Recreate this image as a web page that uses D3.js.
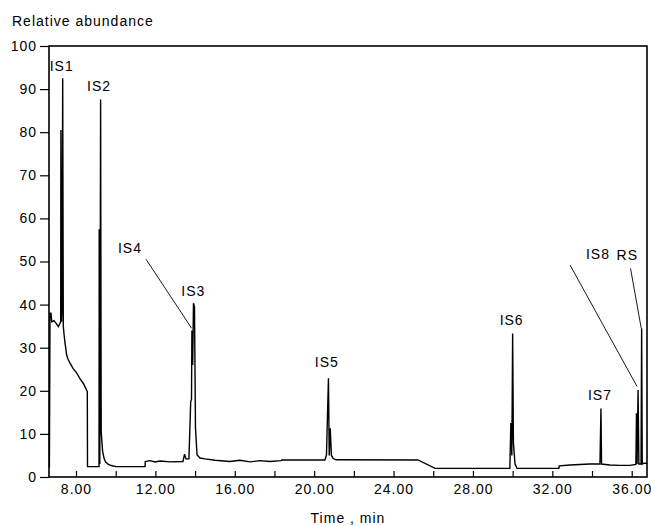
<!DOCTYPE html>
<html>
<head>
<meta charset="utf-8">
<script src="https://cdn.jsdelivr.net/npm/d3@7"></script>
<style>
body { margin: 0; background: #fff; }
text { font-family: "Liberation Sans", Arial, sans-serif; font-size: 14px; letter-spacing: 1px; fill: #000; }
</style>
</head>
<body>
<svg id="chart" width="651" height="526"></svg>
<script>
// chromatogram trace (time in min, relative abundance)
var times = [6.66, 6.69, 6.74, 6.78, 6.89, 6.99, 7.11, 7.23, 7.24, 7.27, 7.30, 7.33, 7.36, 7.40, 7.45, 7.53, 7.60, 7.70, 7.85, 8.04, 8.20, 8.37, 8.50, 8.57, 8.58,
  9.16, 9.17, 9.20, 9.24, 9.27, 9.34, 9.41, 9.49, 9.61, 9.81, 10.02, 11.48, 11.49, 11.73, 11.98, 12.23, 12.74, 13.39, 13.47, 13.54, 13.69,
  13.78, 13.82, 13.84, 13.88, 13.92, 13.97, 14.02, 14.10, 14.25, 14.50, 15.00, 15.76, 16.26, 16.77, 17.27, 17.77, 18.33, 18.36,
  20.54, 20.62, 20.72, 20.76, 20.81, 20.87, 20.96, 21.10, 25.23, 26.09, 29.86, 29.91, 29.96, 30.00, 30.04, 30.12, 30.22,
  32.33, 32.35, 32.89, 33.39, 33.89, 34.40, 34.45, 34.48, 34.90, 35.41, 35.91, 36.21, 36.24, 36.27, 36.32, 36.36, 36.47, 36.50, 36.53, 36.62, 36.77];
var abundance = [2.2, 38, 38, 36, 36.3, 35.7, 34.9, 36, 80.5, 36, 40, 92.5, 35, 33, 31, 28.3, 27.3, 26.4, 25.2, 24.1, 22.8, 21.7, 20.5, 19.8, 2.4,
  2.4, 57.5, 3, 87.6, 10.5, 6, 4.4, 3.5, 3, 2.6, 2.4, 2.4, 3.6, 3.8, 3.5, 3.7, 3.5, 3.6, 5.3, 4.2, 4.2,
  17.5, 18, 34, 26, 40.3, 39.5, 11.4, 5.1, 4.4, 4.2, 3.9, 3.6, 3.9, 3.5, 3.8, 3.6, 3.8, 3.95,
  3.95, 5.1, 22.9, 5, 11.3, 5, 4.3, 4.0, 3.95, 2.0, 2.0, 12.5, 5, 33.3, 8, 3, 2.0,
  2.0, 2.6, 2.8, 2.9, 3.0, 3.0, 15.9, 3.0, 2.8, 2.7, 2.7, 2.9, 14.8, 3, 20.2, 3, 3, 34.5, 3, 3.2, 3.2];

// peak labels (text position in data units)
var peakNames = ["IS1", "IS2", "IS4", "IS3", "IS5", "IS6", "IS7", "IS8", "RS"];
var labelTimes = [7.28, 9.16, 10.72, 13.91, 20.64, 29.95, 34.40, 34.30, 35.78];
var labelLevels = [94.2, 89.6, 52.0, 42.0, 25.6, 35.3, 17.9, 50.6, 50.3];

// leader lines for crowded peaks
var leaderFromTimes = [11.53, 32.89, 35.94];
var leaderFromLevels = [50.5, 49.2, 48.4];
var leaderToTimes = [13.83, 36.27, 36.48];
var leaderToLevels = [34.5, 21.0, 34.5];

var xTickValues = [8, 10, 12, 14, 16, 18, 20, 22, 24, 26, 28, 30, 32, 34, 36];
var yTickValues = [0, 10, 20, 30, 40, 50, 60, 70, 80, 90, 100];
var xTitle = "Time , min";
var yTitle = "Relative abundance";

var svg = d3.select("#chart");

var x = d3.scaleLinear().domain([6.64, 36.77]).range([49, 647]);
var y = d3.scaleLinear().domain([0, 100]).range([477, 46]);

// axes
var xAxis = d3.axisBottom(x)
  .tickValues(xTickValues)
  .tickSizeInner(-6)
  .tickSizeOuter(0)
  .tickPadding(7)
  .tickFormat(function(d){ return d % 4 == 0 ? d.toFixed(2) : ""; });

var yAxis = d3.axisLeft(y)
  .tickValues(yTickValues)
  .tickSizeInner(9)
  .tickSizeOuter(0)
  .tickPadding(3);

var gx = svg.append("g").attr("transform", "translate(0," + y(0) + ")").call(xAxis);
var gy = svg.append("g").attr("transform", "translate(" + x.range()[0] + ",0)").call(yAxis);

[gx, gy].forEach(function(g){
  g.attr("font-size", null).attr("font-family", null);
  g.selectAll("text").attr("fill", "#000");
  g.selectAll("line").attr("stroke", "#000").attr("stroke-width", 1.2);
  g.select(".domain").remove();
});

// plot frame
svg.append("rect")
  .attr("x", x.range()[0])
  .attr("y", y(100))
  .attr("width", x.range()[1] - x.range()[0])
  .attr("height", y(0) - y(100))
  .attr("fill", "none")
  .attr("stroke", "#000")
  .attr("stroke-width", 1.6);

// trace
var points = times.map(function(t, i){ return [t, abundance[i]]; });
var line = d3.line()
  .x(function(d){ return x(d[0]); })
  .y(function(d){ return y(d[1]); });

svg.append("path")
  .datum(points)
  .attr("fill", "none")
  .attr("stroke", "#000")
  .attr("stroke-width", 1.4)
  .attr("stroke-linejoin", "miter")
  .attr("d", line);

// leaders
for (var i = 0; i < leaderFromTimes.length; i++) {
  svg.append("line")
    .attr("x1", x(leaderFromTimes[i]))
    .attr("y1", y(leaderFromLevels[i]))
    .attr("x2", x(leaderToTimes[i]))
    .attr("y2", y(leaderToLevels[i]))
    .attr("stroke", "#000")
    .attr("stroke-width", 0.9);
}

// peak labels
svg.selectAll(".peak")
  .data(peakNames)
  .enter().append("text")
  .attr("class", "peak")
  .attr("x", function(d, i){ return x(labelTimes[i]); })
  .attr("y", function(d, i){ return y(labelLevels[i]); })
  .attr("text-anchor", "middle")
  .text(function(d){ return d; });

// titles
svg.append("text")
  .attr("x", 12)
  .attr("y", 26)
  .text(yTitle);

svg.append("text")
  .attr("x", 348)
  .attr("y", 523)
  .attr("text-anchor", "middle")
  .text(xTitle);
</script>
</body>
</html>
